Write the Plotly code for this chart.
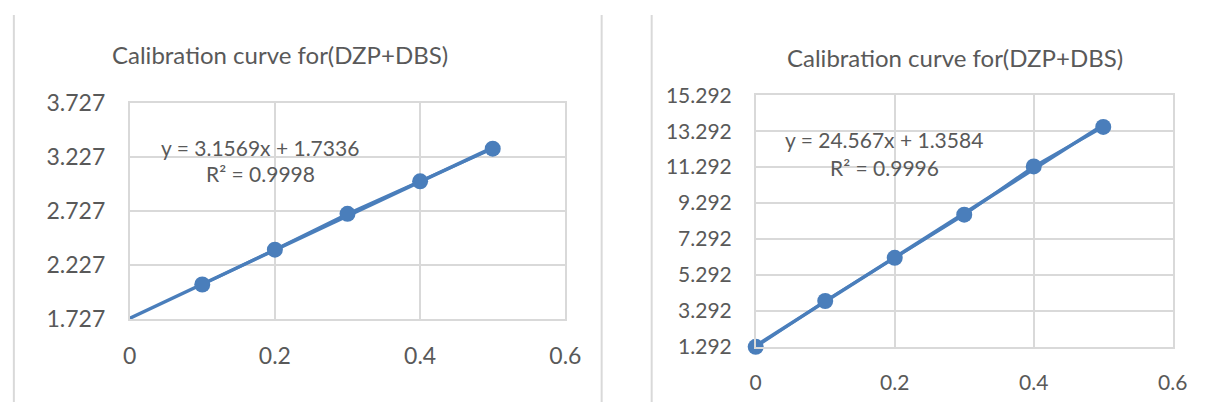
import plotly.graph_objects as go

# Left calibration set
left_x = [0.1, 0.2, 0.3, 0.4, 0.5]
left_y = [2.046, 2.368, 2.699, 3.000, 3.302]
left_slope, left_intercept = 3.1569, 1.7336
left_r2 = "0.9998"
left_yticks = [1.727, 2.227, 2.727, 3.227, 3.727]

# Right calibration set
right_x = [0.0, 0.1, 0.2, 0.3, 0.4, 0.5]
right_y = [1.30, 3.85, 6.25, 8.65, 11.33, 13.53]
right_slope, right_intercept = 24.567, 1.3584
right_r2 = "0.9996"
right_yticks = [1.292, 3.292, 5.292, 7.292, 9.292, 11.292, 13.292, 15.292]

x_ticks = [0, 0.2, 0.4, 0.6]
title_text = "Calibration curve for(DZP+DBS)"

W, H = 1228, 415
BLUE = "#4A7EBB"
GRID = "#d9d9d9"
TXT = "#595959"
FONT = "Lato"

fig = go.Figure()


def add_series(xs, ys, slope, intercept, xa, ya):
    tx = [0.0, max(xs)]
    ty = [slope * v + intercept for v in tx]
    fig.add_trace(go.Scatter(x=tx, y=ty, mode="lines", xaxis=xa, yaxis=ya,
                             line=dict(color=BLUE, width=3.5), cliponaxis=False,
                             showlegend=False, hoverinfo="skip"))
    fig.add_trace(go.Scatter(x=xs, y=ys, mode="lines+markers", xaxis=xa, yaxis=ya,
                             line=dict(color=BLUE, width=3),
                             marker=dict(color=BLUE, size=16),
                             cliponaxis=False, showlegend=False))


add_series(left_x, left_y, left_slope, left_intercept, "x", "y")
add_series(right_x, right_y, right_slope, right_intercept, "x2", "y2")


def px_x(p):
    return p / W


def px_y(p):
    return 1 - p / H


def xaxis_cfg(x0, x1, anchor, fsize):
    return dict(domain=[px_x(x0), px_x(x1)], range=[0, 0.6], anchor=anchor,
                tickvals=x_ticks, ticktext=[f"{v:g}" for v in x_ticks],
                showgrid=True, gridcolor=GRID, gridwidth=1.5,
                showline=True, linecolor=GRID, linewidth=1.5, mirror=True,
                zeroline=False, ticks="", ticklabelstandoff=16,
                tickfont=dict(family=FONT, size=fsize, color=TXT), fixedrange=True)


def yaxis_cfg(y_top, y_bot, ticks, anchor, fsize):
    return dict(domain=[px_y(y_bot), px_y(y_top)], range=[ticks[0], ticks[-1]],
                anchor=anchor, tickvals=ticks, ticktext=[f"{v:.3f}" for v in ticks],
                showgrid=True, gridcolor=GRID, gridwidth=1.5,
                showline=True, linecolor=GRID, linewidth=1.5, mirror=True,
                zeroline=False, ticks="", ticklabelstandoff=18,
                tickfont=dict(family=FONT, size=fsize, color=TXT), fixedrange=True)


fig.update_layout(
    width=W, height=H, margin=dict(l=0, r=0, t=0, b=0),
    paper_bgcolor="white", plot_bgcolor="white",
    xaxis=xaxis_cfg(125, 569, "y", 23),
    yaxis=yaxis_cfg(94, 326, left_yticks, "x", 23),
    xaxis2=xaxis_cfg(763, 1188, "y2", 21),
    yaxis2=yaxis_cfg(86, 356, right_yticks, "x2", 21),
)

# chart frames
for xp in (7, 606, 657):
    fig.add_shape(type="line", xref="paper", yref="paper",
                  x0=px_x(xp), x1=px_x(xp), y0=0, y1=1,
                  line=dict(color=GRID, width=2))

annots = [
    (278, 42, title_text, 24),
    (966, 46, title_text, 24),
    (258, 142, f"y = {left_slope}x + {left_intercept}", 21),
    (258, 170, f"R² = {left_r2}", 21),
    (894, 133, f"y = {right_slope}x + {right_intercept}", 21),
    (894, 163, f"R² = {right_r2}", 21),
]
for cx, cy, text, size in annots:
    fig.add_annotation(x=px_x(cx), y=px_y(cy), xref="paper", yref="paper",
                       text=text, showarrow=False, xanchor="center", yanchor="middle",
                       font=dict(family=FONT, size=size, color=TXT))

fig.write_html("out.html")
